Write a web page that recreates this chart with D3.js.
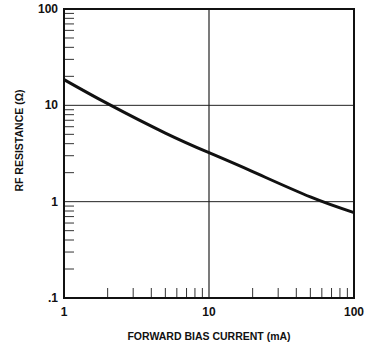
<!DOCTYPE html>
<html>
<head>
<meta charset="utf-8">
<script src="https://cdn.jsdelivr.net/npm/d3@7"></script>
<style>
  body { margin: 0; background: #fff; }
  text { font-family: "Liberation Sans", Arial, sans-serif; font-weight: bold; fill: #111; }
</style>
</head>
<body>
<div id="chart"></div>
<script>
// Data
const currentMA = [1, 2, 5, 10, 20, 50, 100];
const resistance = [18.5, 10.4, 5.15, 3.22, 2.05, 1.12, 0.77];
const xTickLabels = ['1', '10', '100'];
const yTickLabels = ['.1', '1', '10', '100'];
const xTickValues = [1, 10, 100];
const yTickValues = [0.1, 1, 10, 100];

const width = 366;
const height = 347;
const margin = { top: 9, right: 12, bottom: 49, left: 64 };

const svg = d3
  .select('#chart')
  .append('svg')
  .attr('width', width)
  .attr('height', height);

const x = d3.scaleLog().domain([1, 100]).range([margin.left, width - margin.right]);
const y = d3.scaleLog().domain([0.1, 100]).range([height - margin.bottom, margin.top]);

/* Grid + minor ticks
=========================================================================*/
const minors = (lo, hi) => {
  const out = [];
  for (let d = lo; d < hi; d *= 10) for (let k = 2; k <= 9; k++) out.push(+(d * k).toPrecision(3));
  return out;
};

// horizontal gridlines at 1 and 10
svg
  .append('g')
  .selectAll('line')
  .data([1, 10])
  .enter()
  .append('line')
  .attr('x1', x(1))
  .attr('x2', x(100))
  .attr('y1', (d) => y(d))
  .attr('y2', (d) => y(d))
  .attr('stroke', '#222')
  .attr('stroke-width', 1);

// vertical gridline at 10
svg
  .append('line')
  .attr('x1', x(10))
  .attr('x2', x(10))
  .attr('y1', y(0.1))
  .attr('y2', y(100))
  .attr('stroke', '#222')
  .attr('stroke-width', 1.2);

// minor ticks along left axis (pointing in)
svg
  .append('g')
  .selectAll('line')
  .data(minors(0.1, 100))
  .enter()
  .append('line')
  .attr('x1', x(1))
  .attr('x2', x(1) + 10)
  .attr('y1', (d) => y(d))
  .attr('y2', (d) => y(d))
  .attr('stroke', '#333')
  .attr('stroke-width', 1);

// minor ticks along bottom axis (pointing up)
svg
  .append('g')
  .selectAll('line')
  .data(minors(1, 100))
  .enter()
  .append('line')
  .attr('x1', (d) => x(d))
  .attr('x2', (d) => x(d))
  .attr('y1', y(0.1))
  .attr('y2', y(0.1) - 10)
  .attr('stroke', '#333')
  .attr('stroke-width', 1);

// frame
svg
  .append('rect')
  .attr('x', x(1))
  .attr('y', y(100))
  .attr('width', x(100) - x(1))
  .attr('height', y(0.1) - y(100))
  .attr('fill', 'none')
  .attr('stroke', '#111')
  .attr('stroke-width', 2);

/* Curve
=========================================================================*/
const line = d3
  .line()
  .x((d) => x(d[0]))
  .y((d) => y(d[1]))
  .curve(d3.curveNatural);

svg
  .append('path')
  .datum(currentMA.map((c, i) => [c, resistance[i]]))
  .attr('d', line)
  .attr('fill', 'none')
  .attr('stroke', '#111')
  .attr('stroke-width', 3);

/* Labels
=========================================================================*/
svg
  .append('g')
  .selectAll('text')
  .data(yTickValues)
  .enter()
  .append('text')
  .attr('x', x(1) - 6)
  .attr('y', (d) => y(d) + 4)
  .attr('text-anchor', 'end')
  .style('font-size', '12px')
  .text((d, i) => yTickLabels[i]);

svg
  .append('g')
  .selectAll('text')
  .data(xTickValues)
  .enter()
  .append('text')
  .attr('x', (d) => x(d))
  .attr('y', y(0.1) + 18)
  .attr('text-anchor', 'middle')
  .style('font-size', '12px')
  .text((d, i) => xTickLabels[i]);

svg
  .append('text')
  .attr('x', x(10))
  .attr('y', 340)
  .attr('text-anchor', 'middle')
  .style('font-size', '10.5px')
  .text('FORWARD BIAS CURRENT (mA)');

svg
  .append('text')
  .attr('transform', `translate(23, ${(y(0.1) + y(100)) / 2 - 13}) rotate(-90)`)
  .attr('text-anchor', 'middle')
  .style('font-size', '10.5px')
  .text('RF RESISTANCE (Ω)');
</script>
</body>
</html>
